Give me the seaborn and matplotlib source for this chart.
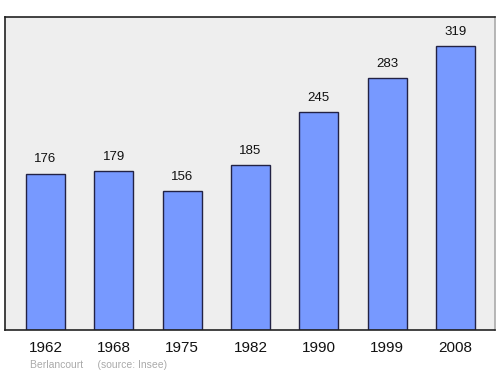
import matplotlib
matplotlib.use("Agg")
import matplotlib.pyplot as plt
import seaborn as sns
import pandas as pd

years = ["1962", "1968", "1975", "1982", "1990", "1999", "2008"]
population = [176, 179, 156, 185, 245, 283, 319]

df = pd.DataFrame({"year": years, "pop": population})

sns.set_style("white")
plt.rcParams['font.family'] = ['Liberation Sans', 'DejaVu Sans']

fig = plt.figure(figsize=(5, 3.74), dpi=100)
ax = fig.add_axes([5/500, 1 - 330/374, 490/500, 313/374])
ax.set_facecolor("#eeeeee")

sns.barplot(data=df, x="year", y="pop", ax=ax, color="#7799ff", saturation=1,
            width=0.57, edgecolor="#222244", linewidth=1)

for i, v in enumerate(population):
    ax.text(i, v + 9, str(v), ha="center", va="bottom", fontsize=9.5, color="#111111")

ax.set_xlim(-0.593, 6.578)
ax.set_ylim(0, 352)
ax.set_yticks([])
ax.set_xlabel("")
ax.set_ylabel("")
ax.tick_params(axis="x", length=0, labelsize=11, pad=8, colors="#111111")
for s in ax.spines.values():
    s.set_visible(True)
    s.set_color("#222222")
    s.set_linewidth(1.2)
ax.spines["right"].set_color("#aaaaaa")

fig.text(30/500, 1 - 365/374, "Berlancourt     (source: Insee)", fontsize=7.5,
         color="#aaaaaa", ha="left", va="center")

fig.savefig("out.png", dpi=100)
